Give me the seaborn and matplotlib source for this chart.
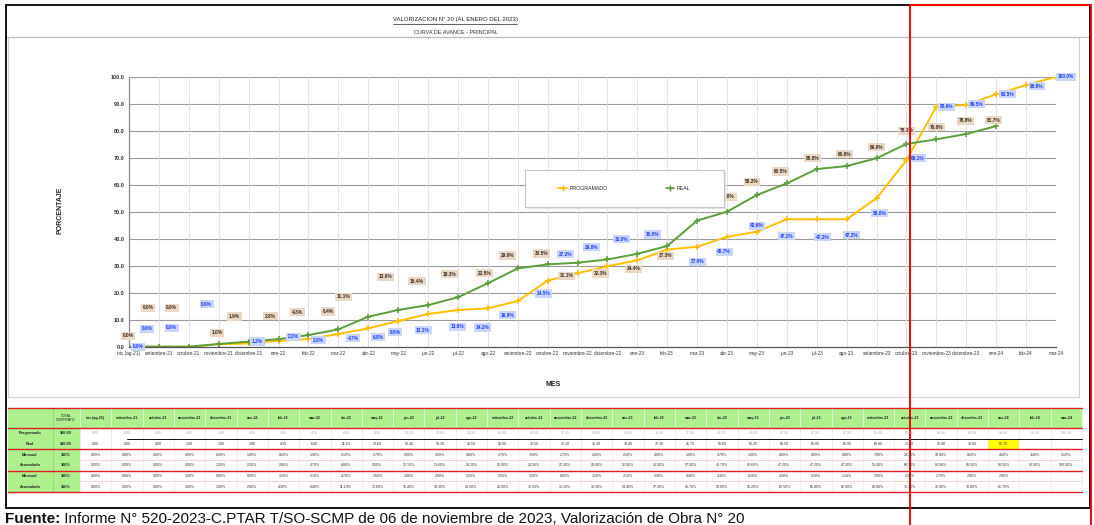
import numpy as np
import pandas as pd
import matplotlib
matplotlib.use("Agg")
import matplotlib.pyplot as plt
import seaborn as sns
from matplotlib.patches import Rectangle
from matplotlib.lines import Line2D

# ---------------- data ----------------
meses = ["inic.(ag-21)", "setiembre-21", "octubre-21", "noviembre-21", "diciembre-21",
         "ene-22", "feb-22", "mar-22", "abr-22", "may-22", "jun-22", "jul-22", "ago-22",
         "setiembre-22", "octubre-22", "noviembre-22", "diciembre-22",
         "ene-23", "feb-23", "mar-23", "abr-23", "may-23", "jun-23", "jul-23", "ago-23",
         "setiembre-23", "octubre-23", "noviembre-23", "diciembre-23",
         "ene-24", "feb-24", "mar-24"]
programado = [0.0, 0.0, 0.0, 0.9, 1.2, 2.2, 2.8, 4.7, 6.8, 9.5, 12.1, 13.6, 14.2,
              16.9, 24.5, 27.2, 29.8, 32.0, 36.0, 37.0, 40.7, 42.6, 47.2, 47.2, 47.2,
              55.0, 69.1, 88.9, 89.5, 93.5, 96.9, 100.0]
real = [0.0, 0.0, 0.0, 1.0, 1.9, 2.8, 4.3, 6.4, 11.1, 13.6, 15.4, 18.3, 23.5,
        29.0, 30.5, 31.1, 32.3, 34.4, 37.3, 46.7, 50.0, 56.2, 60.5, 65.8, 66.9,
        69.8, 75.1, 76.8, 78.8, 81.7]
yticks = list(range(0, 101, 10))
titulo = "VALORIZACION N° 20 (AL ENERO DEL 2023)"
subtitulo = "CURVA DE AVANCE - PRINCIPAL"
fuente_b = "Fuente:"
fuente = " Informe N° 520-2023-C.PTAR T/SO-SCMP de 06 de noviembre de 2023, Valorización de Obra N° 20"
filas = ["Programado", "Real", "Mensual", "Acumulado", "Mensual", "Acumulado"]

# label placement offsets (pixels, +dy = downward)
prog_dx = [9, -12, -17, -12, 9, 15, 10, 15, 10, -3, -5, 0, -5, -10, -4, -12, -16, -16, -15,
           0, -3, 0, 0, 6, 5, 3, 11, 10, 10, 11, 11, 10]
prog_dy = [0, -18, -19, -40, -2, -4, 1, 4, 9, 11, 16, 17, 19, 14, 13, -19, -19, -21, -15,
           15, 15, -6, 17, 18, 16, 15, -2, 0, -1, 0, 1, 0]
real_dx = [-1, -11, -17, -2, -14, -8, -11, -10, -25, -13, -11, -8, -3, -10, -6, -11, -7, -4,
           -2, 0, 1, -5, -6, -4, -2, 0, 0, 0, -1, -3]
real_dy = [-11, -39, -39, -11, -25, -23, -23, -18, -20, -33, -24, -23, -10, -13, -11, 13, 14,
           15, 10, -24, -15, -13, -12, -11, -12, -11, -13, -12, -13, -6]

# ---------------- style ----------------
sns.set_theme(style="white")
plt.rcParams['font.family'] = ['Liberation Sans', 'DejaVu Sans']
W, H = 1094, 525
C_PROG = "#ffbf00"
C_REAL = "#5c9e3c"
GREEN = "#aef08e"
RED = "#e02020"

fig = plt.figure(figsize=(W / 100, H / 100), dpi=100)
fig.patch.set_facecolor("white")

# background overlay (pixel coordinates)
bg = fig.add_axes([0, 0, 1, 1], zorder=0)
bg.set_xlim(0, W); bg.set_ylim(H, 0); bg.axis("off")

bg.add_patch(Rectangle((8, 37), 1071, 360, fill=False, ec="#d4d4d4", lw=0.8))
bg.plot([6, 1090], [37, 37], color="#bdbdbd", lw=0.9)

# ---------------- chart ----------------
x0, x1, y0, y1 = 129, 1056, 346.7, 76.7
ax = fig.add_axes([x0 / W, 1 - y0 / H, (x1 - x0) / W, (y0 - y1) / H], zorder=2)
ax.set_facecolor("none")

idx_p = np.arange(len(programado))
idx_r = np.arange(len(real))
sns.lineplot(x=idx_p, y=programado, ax=ax, color=C_PROG, lw=1.4, marker="+",
             markersize=5, markeredgecolor=C_PROG, markeredgewidth=1.1, label="PROGRAMADO", legend=False)
sns.lineplot(x=idx_r, y=real, ax=ax, color=C_REAL, lw=1.4, marker="+",
             markersize=5, markeredgecolor=C_REAL, markeredgewidth=1.1, label="REAL", legend=False)

ax.set_xlim(0, len(meses) - 1)
ax.set_ylim(0, 100)
ax.set_xticks(np.arange(len(meses)))
ax.set_xticklabels(meses, fontsize=3.4, color="#333333")
ax.set_yticks(yticks)
ax.set_yticklabels([f"{v:.1f}" for v in yticks], fontsize=4, color="#333333", fontweight="bold")
ax.tick_params(axis="both", length=0, pad=3)
for v in yticks[1:]:
    ax.axhline(v, color="#9a9a9a", lw=0.8, zorder=0)
for i in range(1, len(meses)):
    ax.axvline(i, color="#dedede", lw=0.6, zorder=0)
for s in ["top", "right"]:
    ax.spines[s].set_visible(False)
ax.spines["left"].set_color("#8a8a8a"); ax.spines["left"].set_linewidth(0.9)
ax.spines["bottom"].set_color("#555555"); ax.spines["bottom"].set_linewidth(0.9)
ax.set_xlabel(""); ax.set_ylabel("")

k = 0.72  # px -> points
for i, v in enumerate(programado):
    ax.annotate(f"{v:.1f}%", (i, v), xytext=(prog_dx[i] * k, -prog_dy[i] * k),
                textcoords="offset points", ha="center", va="center", fontsize=3.4,
                fontweight="bold", color="#1f3cff", zorder=5,
                bbox=dict(boxstyle="square,pad=0.35", fc="#c9d5fb", ec="none"))
for i, v in enumerate(real):
    ax.annotate(f"{v:.1f}%", (i, v), xytext=(real_dx[i] * k, -real_dy[i] * k),
                textcoords="offset points", ha="center", va="center", fontsize=3.4,
                fontweight="bold", color="#3b2a1c", zorder=5,
                bbox=dict(boxstyle="square,pad=0.35", fc="#e9d8c6", ec="none"))

# ---------------- foreground overlay ----------------
fg = fig.add_axes([0, 0, 1, 1], zorder=10)
fg.set_facecolor("none")
fg.set_xlim(0, W); fg.set_ylim(H, 0); fg.axis("off")

# legend box
fg.add_patch(Rectangle((527, 172), 199, 37, fc="#e4e4e4", ec="none"))
fg.add_patch(Rectangle((525, 170), 199, 37, fc="white", ec="#c4c4c4", lw=0.8))
handles = [Line2D([], [], color=C_PROG, lw=1.2, marker="+", ms=4, mec=C_PROG),
           Line2D([], [], color=C_REAL, lw=1.2, marker="+", ms=4, mec=C_REAL)]
leg = fig.legend(handles, ["PROGRAMADO", "REAL"], loc="center",
                 bbox_to_anchor=(624.5 / W, 1 - 188.5 / H), ncol=2, frameon=False,
                 fontsize=3.8, columnspacing=11, handlelength=1.6, handletextpad=0.5)
leg.set_zorder(11)

# titles
t = fg.text(455, 20, titulo, ha="center", va="center", fontsize=4.3, color="#222222")
fg.text(456, 32, subtitulo, ha="center", va="center", fontsize=4.0, color="#333333")
fig.canvas.draw()
bb = t.get_window_extent()
fg.plot([bb.x0, bb.x1], [H - bb.y0 + 1, H - bb.y0 + 1], color="#222222", lw=0.5)

fg.text(60, 210, "PORCENTAJE", rotation=90, ha="center", va="center", fontsize=5,
        fontweight="bold", color="#222222")
fg.text(553, 384, "MES", ha="center", va="center", fontsize=5, fontweight="bold",
        color="#222222")

# ---------------- table ----------------
n = len(meses)
cx0, cx1 = 80, 1082
cw = (cx1 - cx0) / n
ty_h0, ty_h1 = 408, 428
rh = (492 - 428) / 6
# header / label column fills
fg.add_patch(Rectangle((8, ty_h0), cx1 - 8, ty_h1 - ty_h0, fc=GREEN, ec="none"))
fg.add_patch(Rectangle((8, ty_h1), cx0 - 8, 492 - ty_h1, fc=GREEN, ec="none"))
# highlight cell
fg.add_patch(Rectangle((cx0 + 29 * cw, ty_h1 + rh), cw, rh, fc="#ffff00", ec="none"))
for j in range(n + 1):
    xx = cx0 + j * cw
    fg.plot([xx, xx], [ty_h0, ty_h1], color="#e8f8e0", lw=0.6)
    fg.plot([xx, xx], [ty_h1, 492], color="#f4dede", lw=0.4)
fg.plot([53, 53], [ty_h0, 492], color="#8fcf70", lw=0.5)
for j, m in enumerate(meses):
    fg.text(cx0 + (j + 0.5) * cw, (ty_h0 + ty_h1) / 2, m, ha="center", va="center",
            fontsize=2.6, color="#222222", fontweight="bold")
fg.text(66, 418, "TOTAL\nCONTRATO", ha="center", va="center", fontsize=2.6,
        color="#222222", linespacing=1.0)

prog_m = np.diff([0.0] + programado)
real_m = np.diff([0.0] + real)
rows = [
    ([f"{v:.2f}" for v in programado], "#aaaaaa"),
    ([f"{v:.2f}" for v in real], "#333333"),
    ([f"{v:.2f}%" for v in prog_m], "#333333"),
    ([f"{v:.2f}%" for v in programado], "#333333"),
    ([f"{v:.2f}%" for v in real_m], "#333333"),
    ([f"{v:.2f}%" for v in real], "#333333"),
]
tot = ["100.00", "100.00", "100%", "100%", "100%", "100%"]
for r, (vals, col) in enumerate(rows):
    yc = ty_h1 + (r + 0.5) * rh
    fg.text(30, yc, filas[r], ha="center", va="center", fontsize=2.8, color="#222222",
            fontweight="bold")
    fg.text(66, yc, tot[r], ha="center", va="center", fontsize=2.8, color="#222222",
            fontweight="bold")
    for j, s in enumerate(vals):
        fg.text(cx0 + (j + 0.5) * cw, yc, s, ha="center", va="center", fontsize=2.6,
                color=col)
for yy in [ty_h1 + rh * 3, ty_h1 + rh * 5]:
    fg.plot([cx0, cx1], [yy, yy], color="#f0c4c4", lw=0.5)
fg.plot([127, cx1], [ty_h1 + rh, ty_h1 + rh], color="#111111", lw=0.7)
for yy in [ty_h0, ty_h1, ty_h1 + 2 * rh, ty_h1 + 4 * rh, 492]:
    fg.plot([8, cx1], [yy, yy], color=RED, lw=1.0)

# outer frame
fg.add_patch(Rectangle((6, 5), 1084, 503, fill=False, ec="#111111", lw=1.4))

# source caption
tb = fg.text(5, 512, fuente_b, ha="left", va="top", fontsize=11, fontweight="bold",
             color="#111111")
fig.canvas.draw()
bb2 = tb.get_window_extent()
fg.text(bb2.x1, 512, fuente, ha="left", va="top", fontsize=11, color="#111111")

# red annotation line
fg.plot([910, 910], [5, H], color="#ff0000", lw=1.4)
fg.plot([910, 1091], [5, 5], color="#ff0000", lw=1.4)
fg.plot([1091, 1091], [5, H], color="#ff0000", lw=1.4)

fig.savefig("out.png", dpi=100)
